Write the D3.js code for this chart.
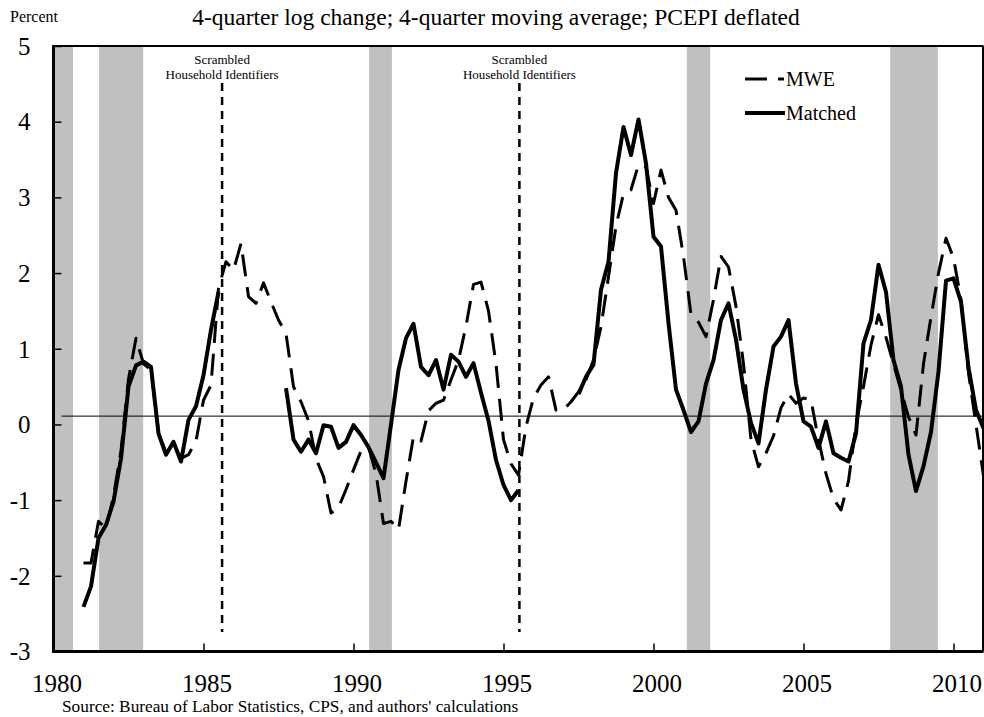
<!DOCTYPE html>
<html>
<head>
<meta charset="utf-8">
<script src="https://cdn.jsdelivr.net/npm/d3@7"></script>
<style>
  html, body { margin: 0; padding: 0; background: #ffffff; }
  svg { display: block; }
  svg text { font-family: "Liberation Serif", "Times New Roman", serif; fill: #000; }
</style>
</head>
<body>
<script>
// ---- Data ----
const firstYear = 1981;            // first quarter of both series (1981Q1)
const quarterCount = 121;          // 1981Q1 .. 2011Q1

const mweValues = [
  -1.83, -1.83, -1.28, -1.37,   // 1981
  -0.95, -0.35,  0.60,  1.14,   // 1982
   0.80,  0.72, -0.10, -0.38,   // 1983
  -0.25, -0.45, -0.40, -0.22,   // 1984
   0.32,  0.52,  1.80,  2.15,   // 1985
   2.04,  2.39,  1.69,  1.60,   // 1986
   1.87,  1.62,  1.38,  1.20,   // 1987
   0.50,  0.30,  0.05, -0.45,   // 1988
  -0.69, -1.17, -1.10, -0.86,   // 1989
  -0.60, -0.35, -0.30, -0.65,   // 1990
  -1.31, -1.28, -1.39, -0.75,   // 1991
  -0.16, -0.22,  0.18,  0.28,   // 1992
   0.32,  0.59,  0.85,  1.30,   // 1993
   1.85,  1.88,  1.50,  0.80,   // 1994
  -0.20, -0.52, -0.67, -0.03,   // 1995
   0.35,  0.52,  0.63,  0.19,   // 1996
   0.19,  0.30,  0.43,  0.59,   // 1997
   0.85,  1.29,  1.95,  2.62,   // 1998
   3.05,  3.10,  3.43,  3.40,   // 1999
   2.92,  3.36,  3.00,  2.83,   // 2000
   2.22,  1.45,  1.35,  1.16,   // 2001
   1.65,  2.22,  2.08,  1.56,   // 2002
   0.80, -0.20, -0.56, -0.38,   // 2003
  -0.15,  0.22,  0.40,  0.28,   // 2004
   0.35,  0.32, -0.20, -0.65,   // 2005
  -0.98, -1.13, -0.75,  0.00,   // 2006
   0.50,  1.05,  1.45,  1.15,   // 2007
   0.80,  0.45,  0.10, -0.14,   // 2008
   0.80,  1.42,  2.00,  2.46,   // 2009
   2.20,  1.65,  0.68,  0.00,   // 2010
  -0.68                         // 2011
];

const matchedValues = [
  -2.41, -2.14, -1.50, -1.33,   // 1981
  -1.02, -0.45,  0.50,  0.78,   // 1982
   0.83,  0.76, -0.12, -0.40,   // 1983
  -0.23, -0.49,  0.06,  0.24,   // 1984
   0.65,  1.25,  1.75,  null,   // 1985
   null,  null,  null,  null,   // 1986
   null,  null,  null,  0.48,   // 1987
  -0.20, -0.36, -0.20, -0.38,   // 1988
  -0.01, -0.03, -0.31, -0.23,   // 1989
  -0.01, -0.14, -0.30, -0.50,   // 1990
  -0.71,  0.00,  0.72,  1.14,   // 1991
   1.33,  0.76,  0.65,  0.85,   // 1992
   0.46,  0.92,  0.83,  0.63,   // 1993
   0.81,  0.42,  0.05, -0.47,   // 1994
  -0.80, -1.00, -0.87,  null,   // 1995
   null,  null,  null,  null,   // 1996
   null,  null,  0.40,  0.63,   // 1997
   0.79,  1.78,  2.15,  3.32,   // 1998
   3.93,  3.56,  4.03,  3.45,   // 1999
   2.48,  2.35,  1.34,  0.46,   // 2000
   0.19, -0.10,  0.04,  0.54,   // 2001
   0.85,  1.38,  1.60,  1.12,   // 2002
   0.46,  0.02, -0.25,  0.46,   // 2003
   1.03,  1.16,  1.38,  0.54,   // 2004
   0.04, -0.03, -0.31,  0.04,   // 2005
  -0.38, -0.44, -0.49, -0.12,   // 2006
   1.07,  1.38,  2.11,  1.75,   // 2007
   0.85,  0.50, -0.40, -0.88,   // 2008
  -0.55, -0.10,  0.70,  1.90,   // 2009
   1.93,  1.62,  0.75,  0.19,   // 2010
  -0.05                         // 2011
];

const recessionStarts = [1980.0, 1981.52, 1990.52, 2001.11, 2007.89];
const recessionEnds   = [1980.65, 1982.99, 1991.28, 2001.89, 2009.48];

const scrambleYears  = [1985.62, 1995.53];
const scrambleLines  = ["Scrambled", "Household Identifiers"];

const xTickYears  = [1980, 1985, 1990, 1995, 2000, 2005, 2010];
const yTickValues = [-3, -2, -1, 0, 1, 2, 3, 4, 5];
const referenceLevel = 0.11;

const seriesNames = ["MWE", "Matched"];

const titleText  = "4-quarter log change; 4-quarter moving average; PCEPI deflated";
const unitText   = "Percent";
const sourceText = "Source: Bureau of Labor Statistics, CPS, and authors' calculations";

// ---- Layout ----
const W = 984, H = 717;
const plotLeft = 53.5, plotRight = 983.5, plotTop = 46, plotBottom = 651.5;
const serif = "'Liberation Serif', 'Times New Roman', serif";

const x = d3.scaleLinear().domain([1980, 2011]).range([plotLeft, plotRight]);
const y = d3.scaleLinear().domain([-3, 5]).range([plotBottom, plotTop]);

const svg = d3.select("body").append("svg").attr("width", W).attr("height", H);

const quarterYear = i => firstYear + i / 4;
const mweData = mweValues.slice(0, quarterCount).map((v, i) => ({ t: quarterYear(i), v }));
const matchedData = matchedValues.slice(0, quarterCount).map((v, i) => ({ t: quarterYear(i), v }));

// recession shading
svg.append("g").selectAll("rect")
  .data(recessionStarts.map((s, i) => [s, recessionEnds[i]]))
  .join("rect")
  .attr("x", d => x(d[0]))
  .attr("width", d => x(d[1]) - x(d[0]))
  .attr("y", plotTop)
  .attr("height", plotBottom - plotTop)
  .attr("fill", "#c0c0c0");

// reference horizontal line
svg.append("line")
  .attr("x1", plotLeft + 8).attr("x2", plotRight)
  .attr("y1", y(referenceLevel)).attr("y2", y(referenceLevel))
  .attr("stroke", "#000").attr("stroke-width", 1);

// scramble vertical dashed lines + labels
const scr = svg.append("g");
scr.selectAll("line").data(scrambleYears).join("line")
  .attr("x1", d => x(d)).attr("x2", d => x(d))
  .attr("y1", 83).attr("y2", 632)
  .attr("stroke", "#000").attr("stroke-width", 2.5)
  .attr("stroke-dasharray", "8,6");
scrambleYears.forEach(yr => {
  scrambleLines.forEach((t, j) => {
    scr.append("text")
      .attr("x", x(yr)).attr("y", 64 + j * 14.5)
      .attr("text-anchor", "middle")
      .style("font-size", "13px")
      .text(t);
  });
});

// lines
const lineGen = d3.line()
  .defined(d => d.v !== null)
  .x(d => x(d.t)).y(d => y(d.v));

svg.append("path").datum(mweData)
  .attr("d", lineGen)
  .attr("fill", "none").attr("stroke", "#000")
  .attr("stroke-width", 3).attr("stroke-dasharray", "22,11")
  .attr("stroke-linejoin", "round");

svg.append("path").datum(matchedData)
  .attr("d", lineGen)
  .attr("fill", "none").attr("stroke", "#000")
  .attr("stroke-width", 4)
  .attr("stroke-linejoin", "round");

// frame (top & right)
svg.append("line").attr("x1", plotLeft).attr("x2", plotRight)
  .attr("y1", plotTop).attr("y2", plotTop)
  .attr("stroke", "#000").attr("stroke-width", 2);
svg.append("line").attr("x1", plotRight - 0.5).attr("x2", plotRight - 0.5)
  .attr("y1", plotTop).attr("y2", plotBottom)
  .attr("stroke", "#000").attr("stroke-width", 2);

// y axis
const yAxis = svg.append("g")
  .attr("transform", `translate(${plotLeft},0)`)
  .call(d3.axisRight(y).tickValues(yTickValues).tickSize(8).tickFormat(d => String(d)));
yAxis.attr("font-family", null).attr("font-size", null);
yAxis.select(".domain").attr("stroke", "#000").attr("stroke-width", 3).attr("d", `M0,${plotTop - 1}V${plotBottom + 1.5}`);
yAxis.selectAll(".tick line").attr("stroke", "#000").attr("stroke-width", 1.5);
yAxis.selectAll(".tick text")
  .attr("x", -23).attr("dy", "0.33em")
  .attr("text-anchor", "end")
  .style("font-family", serif)
  .style("font-size", "25px");

// x axis
const xAxis = svg.append("g")
  .attr("transform", `translate(0,${plotBottom})`)
  .call(d3.axisTop(x).tickValues(xTickYears).tickSize(8).tickFormat(d => String(d)));
xAxis.attr("font-family", null).attr("font-size", null);
xAxis.select(".domain").attr("stroke", "#000").attr("stroke-width", 3).attr("d", `M${plotLeft - 1.5},0H${plotRight}`);
xAxis.selectAll(".tick line").attr("stroke", "#000").attr("stroke-width", 1.5)
  .attr("display", d => d === 1980 ? "none" : null);
xAxis.selectAll(".tick text")
  .attr("y", 40).attr("dy", "0")
  .attr("dx", 3)
  .attr("text-anchor", "middle")
  .style("font-family", serif)
  .style("font-size", "25px");

// legend
const lg = svg.append("g");
lg.append("line").attr("x1", 745).attr("x2", 784).attr("y1", 79).attr("y2", 79)
  .attr("stroke", "#000").attr("stroke-width", 3).attr("stroke-dasharray", "22,11");
lg.append("text").attr("x", 786).attr("y", 86).style("font-size", "20px").text(seriesNames[0]);
lg.append("line").attr("x1", 745).attr("x2", 785).attr("y1", 113).attr("y2", 113)
  .attr("stroke", "#000").attr("stroke-width", 4);
lg.append("text").attr("x", 786).attr("y", 120).style("font-size", "20px").text(seriesNames[1]);

// titles
svg.append("text").attr("x", 496).attr("y", 25).attr("text-anchor", "middle")
  .style("font-size", "23.5px").text(titleText);
svg.append("text").attr("x", 10).attr("y", 22).style("font-size", "16px").text(unitText);
svg.append("text").attr("x", 62).attr("y", 712).style("font-size", "17.3px").text(sourceText);
</script>
</body>
</html>
